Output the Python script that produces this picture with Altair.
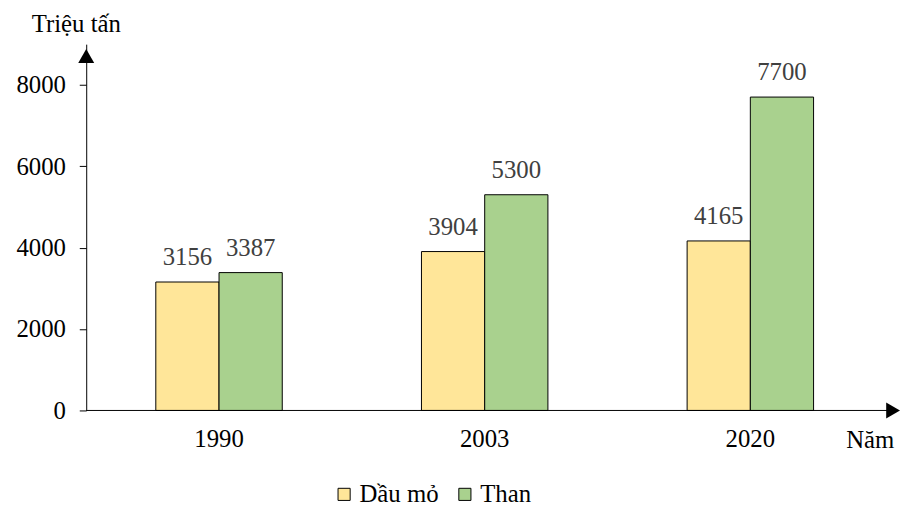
import altair as alt
import pandas as pd

years = ["1990", "2003", "2020"]
series = ["Dầu mỏ", "Than"]
oil = [3156, 3904, 4165]
coal = [3387, 5300, 7700]
colors = ["#FFE699", "#A9D18E"]
y_ticks = [0, 2000, 4000, 6000, 8000]

rows = []
for i, yr in enumerate(years):
    rows.append({"year": yr, "series": series[0], "value": oil[i]})
    rows.append({"year": yr, "series": series[1], "value": coal[i]})
df = pd.DataFrame(rows)

FONT = "Liberation Serif"
FS = 25
W, H = 822, 370
BAND = 805

xscale = alt.Scale(domain=years, range=[0, BAND], paddingInner=0.524, paddingOuter=0.262)
yscale = alt.Scale(domain=[0, 9000], nice=False)

x_enc = alt.X("year:N", scale=xscale, sort=years,
              axis=alt.Axis(title=None, domain=False, ticks=False, labelAngle=0,
                            labelFont=FONT, labelFontSize=FS, labelColor="black",
                            labelPadding=16))
xoff = alt.XOffset("series:N", sort=series, scale=alt.Scale(domain=series))

bars = alt.Chart(df).mark_bar(stroke="black", strokeWidth=1).encode(
    x=x_enc,
    xOffset=xoff,
    y=alt.Y("value:Q", scale=yscale,
            axis=alt.Axis(title=None, values=y_ticks, format="d", grid=False,
                          domainColor="black", tickColor="black", tickSize=7,
                          labelFont=FONT, labelFontSize=FS, labelColor="black",
                          labelPadding=14)),
    color=alt.Color("series:N", sort=series,
                    scale=alt.Scale(domain=series, range=colors),
                    legend=alt.Legend(title=None, orient="none", direction="horizontal",
                                      legendX=248, legendY=442, labelFont=FONT,
                                      labelFontSize=FS, labelColor="black",
                                      symbolType="square", symbolSize=150,
                                      symbolStrokeColor="black", symbolStrokeWidth=1,
                                      symbolOpacity=1, columnPadding=14, labelOffset=3)),
)

labels = alt.Chart(df).mark_text(font=FONT, fontSize=FS, color="#404040",
                                 baseline="alphabetic", dy=-17).encode(
    x=alt.X("year:N", scale=xscale, sort=years),
    xOffset=xoff,
    y=alt.Y("value:Q", scale=yscale),
    text=alt.Text("value:Q", format="d"),
)

xline = alt.Chart(pd.DataFrame({"a": [0]})).mark_rule(color="black", strokeWidth=1).encode(
    x=alt.value(0), x2=alt.value(815), y=alt.value(H))
xarrow = alt.Chart(pd.DataFrame({"a": [0]})).mark_point(
    shape="triangle-right", filled=True, color="black", size=260, opacity=1).encode(
    x=alt.value(815), y=alt.value(H))
yarrow = alt.Chart(pd.DataFrame({"a": [0]})).mark_point(
    shape="triangle-up", filled=True, color="black", size=260, opacity=1).encode(
    x=alt.value(0), y=alt.value(12))

ytitle = alt.Chart(pd.DataFrame({"t": ["Triệu tấn"]})).mark_text(
    font=FONT, fontSize=FS, color="black", align="center", baseline="middle").encode(
    x=alt.value(-10), y=alt.value(-20), text="t:N")
xtitle = alt.Chart(pd.DataFrame({"t": ["Năm"]})).mark_text(
    font=FONT, fontSize=FS, color="black", align="center", baseline="middle").encode(
    x=alt.value(792), y=alt.value(400), text="t:N")

chart = alt.layer(bars, labels, xline, xarrow, yarrow, ytitle, xtitle).properties(
    width=W, height=H,
    background="white",
    autosize=alt.AutoSizeParams(type="none"),
    padding={"left": 79, "top": 34, "right": 0, "bottom": 95},
).configure_view(stroke="transparent", strokeWidth=0)

chart.save("out.html", embed_options={"renderer": "svg", "actions": False})
